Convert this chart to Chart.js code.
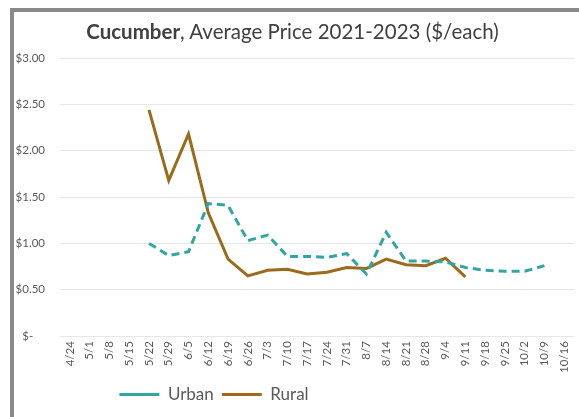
<!DOCTYPE html>
<html>
<head>
<meta charset="utf-8">
<script src="https://cdn.jsdelivr.net/npm/chart.js@4/dist/chart.umd.min.js"></script>
<style>
  html, body { margin:0; padding:0; background:#fff; overflow:hidden; width:579px; height:417px; }
  #frame { position:absolute; left:10px; top:8px; width:600px; height:420px; border-left:4px solid #8a8a8a; border-top:4px solid #8a8a8a; box-sizing:border-box; }
  #title { position:absolute; left:3px; top:19px; width:579px; text-align:center; font-family:Lato, "Open Sans", sans-serif; font-size:20.5px; color:#404040; white-space:nowrap; }
  #wrap { position:absolute; left:0; top:0; width:583px; height:417px; }
</style>
</head>
<body>
<div id="frame"></div>
<div id="wrap"><canvas id="c"></canvas></div>
<div id="title"><b>Cucumber</b>, Average Price 2021-2023 ($/each)</div>
<script>
const categories = ["4/24","5/1","5/8","5/15","5/22","5/29","6/5","6/12","6/19","6/26","7/3","7/10","7/17","7/24","7/31","8/7","8/14","8/21","8/28","9/4","9/11","9/18","9/25","10/2","10/9","10/16"];
const urban = [null,null,null,null,1.00,0.87,0.91,1.43,1.41,1.03,1.09,0.86,0.86,0.85,0.89,0.67,1.12,0.81,0.81,0.80,0.74,0.71,0.70,0.70,0.76,null];
const rural = [null,null,null,null,2.44,1.68,2.18,1.33,0.83,0.65,0.71,0.72,0.67,0.69,0.74,0.73,0.83,0.77,0.76,0.84,0.64,null,null,null,null,null];
const yTicks = [0,0.5,1,1.5,2,2.5,3];

const font = "Lato, 'Open Sans', sans-serif";
new Chart(document.getElementById('c'), {
  type: 'line',
  data: {
    labels: categories,
    datasets: [
      { label: 'Urban', data: urban, borderColor: '#31a6a1', backgroundColor: '#31a6a1', borderWidth: 3, borderDash: [8,5], pointRadius: 0, tension: 0, fill: false },
      { label: 'Rural', data: rural, borderColor: '#9b6b1c', backgroundColor: '#9b6b1c', borderWidth: 3, pointRadius: 0, tension: 0, fill: false }
    ]
  },
  options: {
    responsive: true,
    maintainAspectRatio: false,
    animation: false,
    layout: { padding: { left: 15, top: 58, right: 0, bottom: 4 } },
    plugins: {
      title: { display: false },
      tooltip: { enabled: false },
      legend: {
        position: 'bottom',
        align: 'center',
        labels: {
          usePointStyle: true, pointStyle: 'line', pointStyleWidth: 40,
          font: { family: font, size: 17 }, color: '#595959', padding: 8, boxHeight: 10
        }
      }
    },
    scales: {
      x: {
        offset: true,
        grid: { display: false, drawTicks: false },
        border: { display: false },
        ticks: { font: { family: font, size: 11.5 }, color: '#595959', maxRotation: 90, minRotation: 90, autoSkip: false, padding: 5 }
      },
      y: {
        min: 0, max: 3,
        afterFit: s => { s.width = 45; },
        afterBuildTicks: s => { s.ticks = yTicks.map(v => ({ value: v })); },
        grid: { color: '#e6e6e6', lineWidth: 1, drawTicks: false },
        border: { display: false },
        ticks: {
          font: { family: font, size: 11.5 }, color: '#595959', padding: 15,
          callback: v => v === 0 ? '$-    ' : '$' + v.toFixed(2)
        }
      }
    }
  },
  plugins: [{
    id: 'legendShift',
    afterLayout(chart) {
      const lg = chart.legend;
      if (!lg) return;
      const center = 214;
      const half = 300;
      lg.left = center - half;
      lg.right = center + half;
    }
  }]
});
</script>
</body>
</html>
